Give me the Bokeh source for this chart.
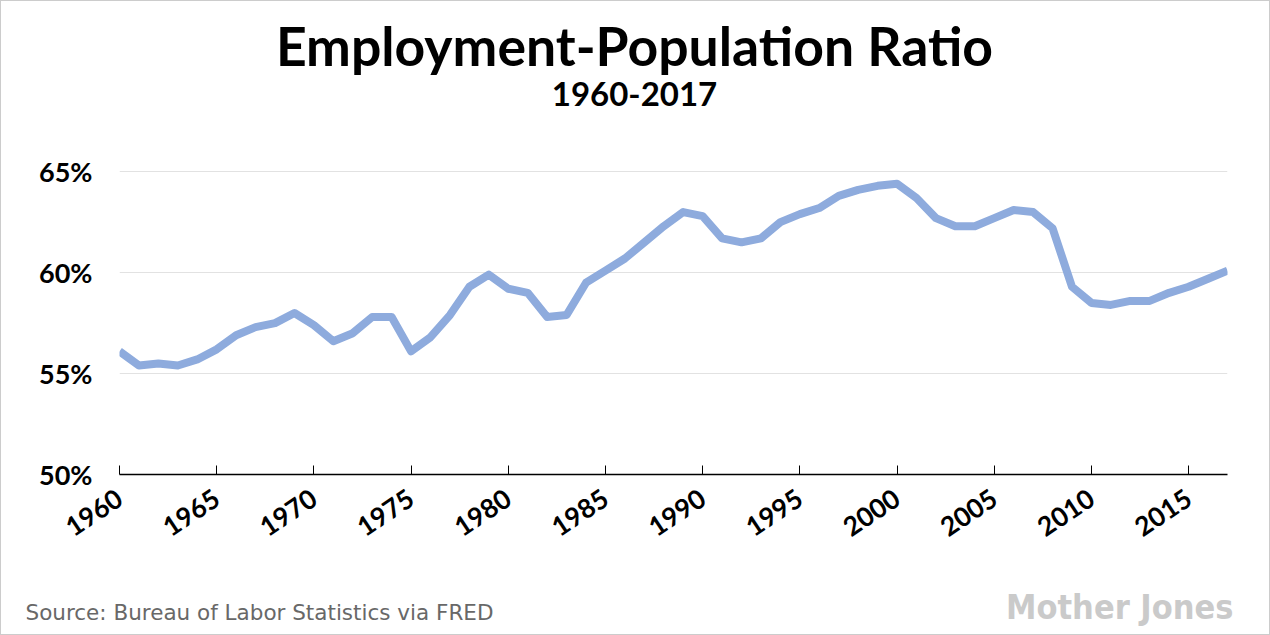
from bokeh.plotting import figure
from bokeh.models import Range1d, Label, FixedTicker
from bokeh.layouts import column
from bokeh.embed import file_html
from bokeh.resources import INLINE

# ---- data ----
years = list(range(1960, 2018))
ratio = [56.1, 55.4, 55.5, 55.4, 55.7, 56.2, 56.9, 57.3, 57.5, 58.0,
         57.4, 56.6, 57.0, 57.8, 57.8, 56.1, 56.8, 57.9, 59.3, 59.9,
         59.2, 59.0, 57.8, 57.9, 59.5, 60.1, 60.7, 61.5, 62.3, 63.0,
         62.8, 61.7, 61.5, 61.7, 62.5, 62.9, 63.2, 63.8, 64.1, 64.3,
         64.4, 63.7, 62.7, 62.3, 62.3, 62.7, 63.1, 63.0, 62.2, 59.3,
         58.5, 58.4, 58.6, 58.6, 59.0, 59.3, 59.7, 60.1]
x_ticks = [1960, 1965, 1970, 1975, 1980, 1985, 1990, 1995, 2000, 2005, 2010, 2015]
y_ticks = [50, 55, 60, 65]
y_tick_labels = ["50%", "55%", "60%", "65%"]
title_text = "Employment-Population Ratio"
subtitle_text = "1960-2017"
source_text = "Source: Bureau of Labor Statistics via FRED"
logo_text = "Mother Jones"

W = 1268
H_TOP, H_MID, H_BOT = 128, 430, 75


def strip(height):
    f = figure(width=W, height=height, output_backend="svg", toolbar_location=None,
               x_range=Range1d(0, W), y_range=Range1d(height, 0),
               x_axis_type=None, y_axis_type=None,
               min_border=0, min_border_left=0, min_border_right=0,
               min_border_top=0, min_border_bottom=0)
    f.frame_align = False
    f.outline_line_color = None
    f.background_fill_color = "white"
    f.border_fill_color = "white"
    f.xgrid.visible = False
    f.ygrid.visible = False
    return f


# ---- header ----
top = strip(H_TOP)
top.add_layout(Label(x=633, y=43, text=title_text, text_font="Lato",
                     text_font_style="bold", text_font_size="53.5px",
                     text_color="black", text_align="center",
                     text_baseline="alphabetic"))
top.add_layout(Label(x=633, y=92, text=subtitle_text, text_font="Lato",
                     text_font_style="bold", text_font_size="33px",
                     text_color="black", text_align="center",
                     text_baseline="alphabetic"))

# ---- chart ----
p = figure(width=W, height=H_MID, output_backend="svg", toolbar_location=None,
           x_range=Range1d(1960, 2017), y_range=Range1d(50, 66),
           min_border_left=118, min_border_right=42,
           min_border_top=22, min_border_bottom=85)
p.frame_align = False
p.background_fill_color = "white"
p.border_fill_color = "white"
p.outline_line_color = None

p.line(years, ratio, line_color="#8eabdd", line_width=8, line_join="round")

p.xgrid.grid_line_color = None
p.ygrid.grid_line_color = "#e2e2e2"
p.ygrid.grid_line_width = 1
p.ygrid.ticker = FixedTicker(ticks=y_ticks)

xa = p.xaxis[0]
xa.ticker = FixedTicker(ticks=x_ticks)
xa.axis_line_color = "black"
xa.axis_line_width = 1.5
xa.major_tick_line_color = "black"
xa.major_tick_line_width = 1
xa.major_tick_in = 9
xa.major_tick_out = 0
xa.minor_tick_line_color = None
xa.major_label_orientation = 0.59
xa.major_label_standoff = 21
xa.major_label_text_font = "Lato"
xa.major_label_text_font_style = "bold"
xa.major_label_text_font_size = "26.5px"
xa.major_label_text_color = "black"

ya = p.yaxis[0]
ya.ticker = FixedTicker(ticks=y_ticks)
ya.major_label_overrides = {t: s for t, s in zip(y_ticks, y_tick_labels)}
ya.axis_line_color = None
ya.major_tick_line_color = None
ya.minor_tick_line_color = None
ya.major_tick_in = 0
ya.major_tick_out = 0
ya.major_label_standoff = 27
ya.major_label_text_font = "Lato"
ya.major_label_text_font_style = "bold"
ya.major_label_text_font_size = "27px"
ya.major_label_text_color = "black"

# ---- footer ----
bot = strip(H_BOT)
bot.add_layout(Label(x=24, y=53, text=source_text, text_font="DejaVu Sans",
                     text_font_size="21.5px", text_color="#686868",
                     text_align="left", text_baseline="alphabetic"))
bot.add_layout(Label(x=1232, y=47, text=logo_text,
                     text_font="DejaVu Sans Condensed", text_font_style="bold",
                     text_font_size="34px", text_color="#cacaca",
                     text_align="right", text_baseline="alphabetic"))

layout = column(top, p, bot, spacing=0)
layout.styles = {"border": "1px solid #cccccc"}

open("out.html", "w").write(file_html(layout, INLINE))
